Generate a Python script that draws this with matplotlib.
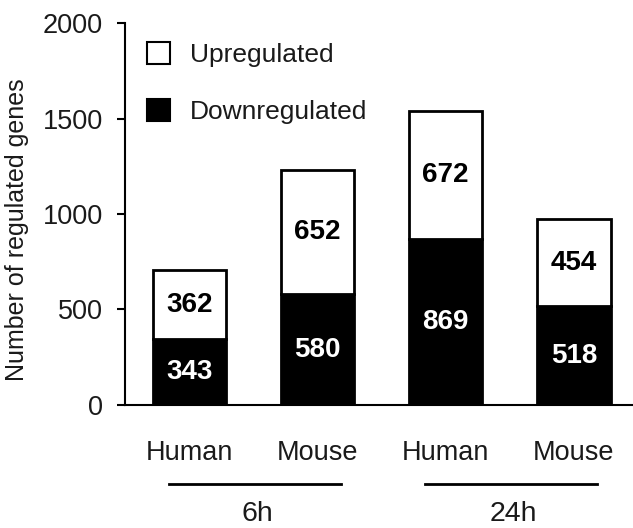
import numpy as np
import matplotlib.pyplot as plt
from matplotlib.patches import Patch

plt.rcParams['font.family'] = ['Liberation Sans', 'DejaVu Sans']

# -----------------------------------------------
# Data
# -----------------------------------------------
species = ["Human", "Mouse", "Human", "Mouse"]
timepoints = ["6h", "24h"]
down = [343, 580, 869, 518]
up = [362, 652, 672, 454]

TXT = "#1a1a1a"

fig = plt.figure(figsize=(6.33, 5.28), dpi=100)
ax = fig.add_axes([0.1975, 0.233, 0.8025, 0.7234])

x = np.arange(len(species))
w = 0.57
ax.bar(x, down, w, color="black", edgecolor="black", linewidth=2)
ax.bar(x, up, w, bottom=down, color="white", edgecolor="black", linewidth=2)

for xi, d, u in zip(x, down, up):
    ax.text(xi, d / 2, str(d), ha="center", va="center", color="white",
            fontsize=20, fontweight="bold")
    ax.text(xi, d + u / 2, str(u), ha="center", va="center", color="black",
            fontsize=20, fontweight="bold")

ax.set_ylim(0, 2000)
ax.set_xlim(-0.5, 3.46)
ax.set_yticks([0, 500, 1000, 1500, 2000])
ax.set_xticks(x)
ax.set_xticklabels(species)
ax.tick_params(axis="y", length=6, width=1.5, pad=10, labelsize=19.5, colors=TXT)
ax.tick_params(axis="y", color="black")
ax.tick_params(axis="x", length=0, pad=25, labelsize=19.5, labelcolor=TXT)
ax.set_ylabel("Number of regulated genes", fontsize=18, color=TXT)
ax.yaxis.set_label_coords(-0.19, 0.46)

for s in ["top", "right"]:
    ax.spines[s].set_visible(False)
for s in ["left", "bottom"]:
    ax.spines[s].set_linewidth(1.5)

# group lines + labels under the axis
trans = ax.get_xaxis_transform()
for i, tp in enumerate(timepoints):
    c = 2 * i + 0.5
    ax.plot([c - 0.66, c + 0.68], [-0.207, -0.207], color="black", lw=2,
            transform=trans, clip_on=False)
    ax.text(c + 0.03, -0.285, tp, transform=trans, ha="center", va="center",
            fontsize=20.5, color=TXT)

handles = [Patch(facecolor="white", edgecolor="black", linewidth=1.5),
           Patch(facecolor="black", edgecolor="black", linewidth=1.5)]
ax.legend(handles, ["Upregulated", "Downregulated"], loc="upper left",
          bbox_to_anchor=(-0.004, 1.012), frameon=False, fontsize=19,
          handlelength=0.9, handleheight=0.9, handletextpad=0.75,
          labelspacing=1.2, labelcolor=TXT)

plt.savefig("out.png", dpi=100)
